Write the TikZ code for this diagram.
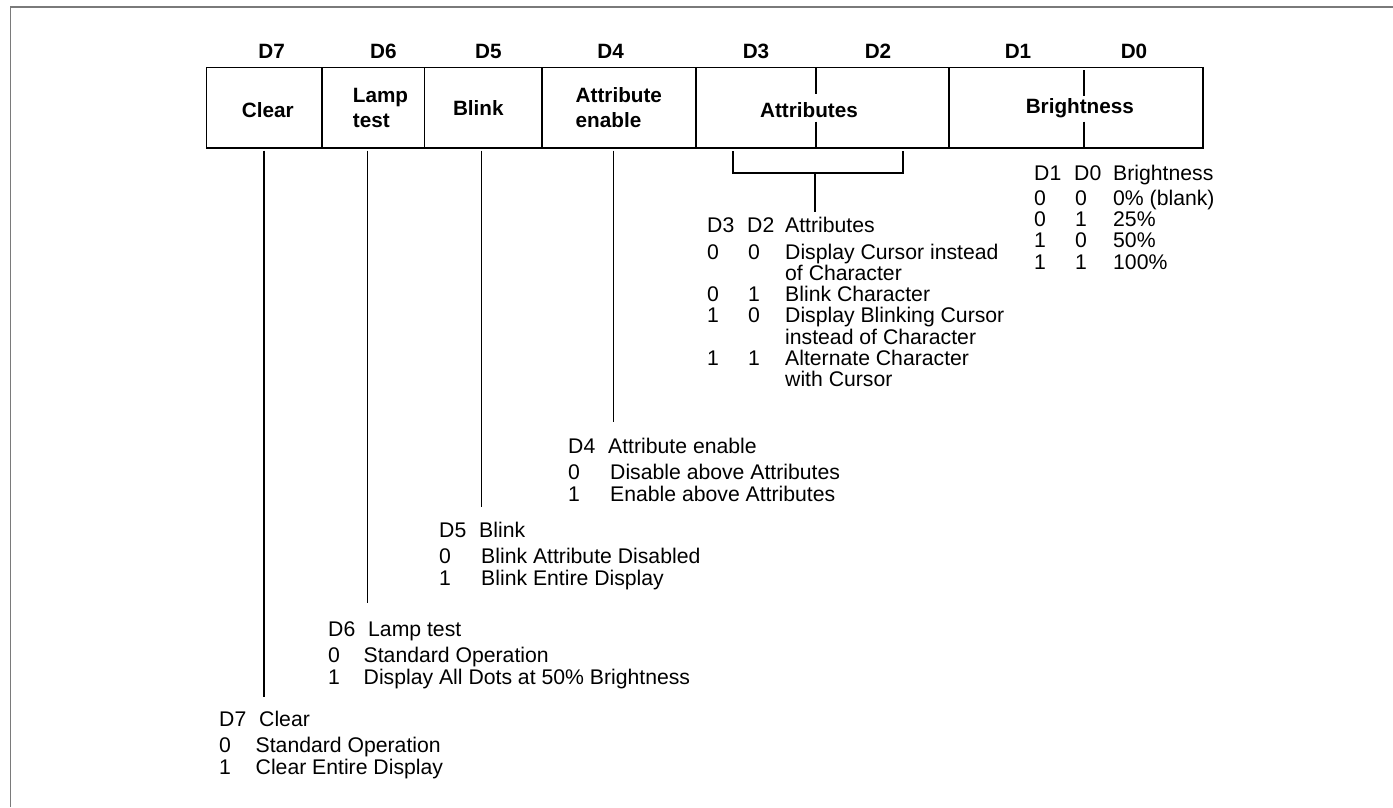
\documentclass[tikz,border=0pt]{standalone}
\usepackage{fontspec}
\setmainfont{Liberation Sans}
\usetikzlibrary{positioning}
\definecolor{framegray}{RGB}{122,122,122}
\newcommand\lite{\fontsize{21.2}{21.3}\selectfont}
\newcommand\heavy{\fontsize{20.7}{25}\selectfont\bfseries}
\tikzset{
  txt/.style={inner sep=0pt, anchor=base west, font=\lite},
  bitlabel/.style={inner sep=0pt, anchor=base, font=\heavy},
  cell/.style={draw, line width=1.6pt, outer sep=0pt, inner sep=0pt,
    minimum height=80.2pt},
  celltext/.style={inner sep=0pt, font=\heavy, align=left},
  lead/.style={line width=1.3pt}
}

\begin{document}
\begin{tikzpicture}[x=1pt, y=-1pt]
  \useasboundingbox (0,0) rectangle (1393,807);
  \draw[framegray, line width=1.6pt] (10.3,807) -- (10.3,6.7) -- (1393,6.7);

  % register
  \node[cell, minimum width=115.2pt, anchor=north west,
    label={[celltext, xshift=3.6pt, yshift=-2pt]center:Clear}] (clear) at (206.5,67.5) {};
  \node[cell, minimum width=102.6pt, right=0pt of clear,
    label={[celltext, xshift=7.5pt]center:Lamp\\test}] (lamp) {};
  \node[cell, minimum width=117.4pt, right=0pt of lamp,
    label={[celltext, xshift=-4.7pt]center:Blink}] (blink) {};
  \node[cell, minimum width=154.3pt, right=0pt of blink,
    label={[celltext]center:Attribute\\enable}] (attren) {};
  \node[cell, minimum width=253pt, right=0pt of attren,
    label={[celltext, xshift=-13.5pt, yshift=-2pt]center:Attributes}] (attrs) {};
  \node[cell, minimum width=253.7pt, right=0pt of attrs,
    label={[celltext, xshift=4pt, yshift=-1pt]center:Brightness}] (bright) {};
  \draw[lead] (816,67.5) -- (816,94) (816,121.7) -- (816,147.7);
  \draw[lead] (1084,70) -- (1084,96) (1084,121.7) -- (1084,147.7);

  \foreach \b/\x in {7/271.7, 6/383.3, 5/488.3, 4/610.7, 3/756, 2/878, 1/1018, 0/1134}
    \node[bitlabel] (bit\b) at (\x,58.3) {D\b};

  % single bit entries
  \foreach \k/\x/\y/\d/\name/\zero/\one in {
      7/219/726.7/36.5/Clear/Standard Operation/Clear Entire Display,
      6/328/636.7/35.5/Lamp test/Standard Operation/Display All Dots at 50\% Brightness,
      5/439/537/42/Blink/Blink Attribute Disabled/Blink Entire Display,
      4/568/453/42/Attribute enable/Disable above Attributes/Enable above Attributes} {
    \node[txt] (head\k) at (\x,\y) {D\k};
    \node[txt] (name\k) at ([xshift=40pt]head\k.base west) {\name};
    \node[txt] (zero\k) at ([yshift=-26pt]head\k.base west) {0};
    \node[txt] (zerotxt\k) at ([xshift=\d pt]zero\k.base west) {\zero};
    \node[txt] (one\k) at ([yshift=-22pt]zero\k.base west) {1};
    \node[txt] (onetxt\k) at ([xshift=\d pt]one\k.base west) {\one};
  }

  % attributes table
  \node[txt] (ahead3) at (707,232) {D3};
  \node[txt] (ahead2) at (747,232) {D2};
  \node[txt] (aheadt) at (785,232) {Attributes};
  \foreach \a/\b/\t [count=\i, evaluate=\i as \y using 259+21.3*(\i-1)] in {
      0/0/Display Cursor instead, //of Character, 0/1/Blink Character,
      1/0/Display Blinking Cursor, //instead of Character,
      1/1/Alternate Character, //with Cursor} {
    \node[txt] (arow3-\i) at (707,\y) {\a};
    \node[txt] (arow2-\i) at (748,\y) {\b};
    \node[txt] (arowt-\i) at (785,\y) {\t};
  }

  % brightness table
  \node[txt] (bhead1) at (1034,180.7) {D1};
  \node[txt] (bhead0) at (1074,180.7) {D0};
  \node[txt] (bheadt) at (1113,180.7) {Brightness};
  \foreach \a/\b/\t [count=\i, evaluate=\i as \y using 205.7+21.1*(\i-1)] in {
      0/0/0\% (blank), 0/1/25\%, 1/0/50\%, 1/1/100\%} {
    \node[txt] (brow1-\i) at (1034,\y) {\a};
    \node[txt] (brow0-\i) at (1075,\y) {\b};
    \node[txt] (browt-\i) at (1113,\y) {\t};
  }

  % leaders
  \coordinate (clr-top) at (264,150.7);   \coordinate (clr-end) at (264,696.6);
  \coordinate (lamp-top) at (367.7,150.7); \coordinate (lamp-end) at (367.7,603);
  \coordinate (blk-top) at (481.7,150.7);  \coordinate (blk-end) at (481.7,507);
  \coordinate (aen-top) at (613.3,150.7);  \coordinate (aen-end) at (613.3,421.7);
  \draw[lead] (clr-top) -- (clr-end);
  \draw[lead] (lamp-top) -- (lamp-end);
  \draw[lead] (blk-top) -- (blk-end);
  \draw[lead] (aen-top) -- (aen-end);

  \coordinate (brk-l) at (733,151);
  \coordinate (brk-r) at (903,151);
  \coordinate (brk-mid) at (815,173);
  \coordinate (brk-end) at (815,211.7);
  \draw[lead] (brk-l) |- (brk-mid) -| (brk-r);
  \draw[lead] (brk-mid) -- (brk-end);
\end{tikzpicture}
\end{document}
